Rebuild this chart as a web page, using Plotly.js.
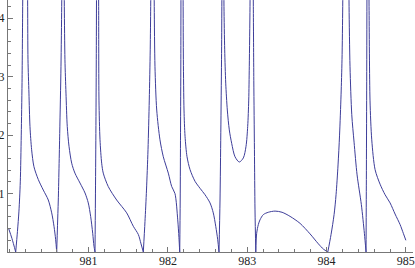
<!DOCTYPE html>
<html>
<head>
<meta charset="utf-8">
<script src="https://cdn.plot.ly/plotly-3.0.1.min.js"></script>
<style>
html,body{margin:0;padding:0;background:#fff;}
#chart{width:415px;height:268px;}
</style>
</head>
<body>
<div id="chart"></div>
<script>
// curve samples (null = break at a pole, 4.83 = point above the visible range)
const xValues = [
  979.99, 980.034, 980.081, 980.103, 980.122, 980.139, 980.151, 980.161, 980.169, 980.172, null,
  980.230, 980.232, 980.236, 980.248, 980.261, 980.282, 980.311, 980.366, 980.429, 980.492, 980.535, 980.564, 980.585, 980.598,
  980.608, 980.618, 980.636, 980.652, 980.661, 980.665, null,
  980.691, 980.694, 980.702, 980.715, 980.731, 980.753, 980.787, 980.828, 980.892, 980.955, 980.996, 981.026, 981.052, 981.068, 981.081,
  981.086, 981.092, 981.097, 981.101, null,
  981.125, 981.127, 981.131, 981.144, 981.165, 981.185, 981.248, 981.354, 981.480, 981.564, 981.627, 981.661, 981.690,
  981.711, 981.730, 981.749, 981.765, 981.777, 981.783, 981.786, null,
  981.826, 981.828, 981.837, 981.859, 981.900, 981.942, 982.005, 982.048, 982.089, 982.124, 982.139, 982.149,
  982.155, 982.159, 982.163, 982.165, null,
  982.190, 982.192, 982.195, 982.203, 982.216, 982.241, 982.279, 982.342, 982.405, 982.468, 982.531, 982.572, 982.603, 982.628, 982.644,
  982.657, 982.667, 982.676, 982.680, 982.682, null,
  982.705, 982.707, 982.716, 982.729, 982.749, 982.774, 982.804, 982.846, 982.900, 982.951, 982.985, 983.006, 983.019, 983.026, 983.035, 983.038, null,
  983.074, 983.077, 983.083, 983.091, 983.098, 983.108,
  983.119, 983.140, 983.161, 983.203, 983.266, 983.351, 983.439, 983.540, 983.666, 983.792, 983.897, 983.960, 984.016,
  984.057, 984.095, 984.120, 984.145, 984.164, 984.183, 984.195, 984.204, 984.207, null,
  984.281, 984.284, 984.296, 984.318, 984.347, 984.385, 984.439, 984.477, 984.498,
  984.502, 984.506, 984.510, null,
  984.533, 984.536, 984.548, 984.570, 984.612, 984.675, 984.738, 984.801, 984.864, 984.927, 984.968, 985.0
];
const yValues = [
  0.41, 0.23, 0, 0.35, 0.70, 1.20, 2.00, 2.90, 4.2, 4.83, null,
  4.83, 4.2, 3.29, 2.72, 2.15, 1.75, 1.46, 1.24, 1.06, 0.89, 0.67, 0.44, 0.21, 0,
  0.45, 0.89, 2.03, 3.17, 4.2, 4.83, null,
  4.83, 4.2, 3.29, 2.72, 2.15, 1.81, 1.52, 1.35, 1.18, 1.01, 0.84, 0.61, 0.32, 0.10, 0,
  0.89, 2.03, 3.29, 4.83, null,
  4.83, 4.2, 2.60, 1.92, 1.52, 1.35, 1.12, 0.89, 0.67, 0.44, 0.30, 0.14, 0,
  0.52, 1.06, 1.75, 2.60, 3.46, 4.2, 4.83, null,
  4.83, 4.2, 3.17, 2.43, 1.92, 1.63, 1.35, 1.12, 1.00, 0.55, 0.25, 0,
  0.89, 2.04, 3.29, 4.83, null,
  4.83, 4.2, 3.29, 2.43, 1.98, 1.63, 1.41, 1.21, 1.09, 0.98, 0.84, 0.67, 0.44, 0.21, 0,
  0.89, 2.04, 3.29, 4.2, 4.83, null,
  4.83, 4.2, 3.46, 2.89, 2.43, 2.09, 1.86, 1.63, 1.54, 1.61, 1.81, 2.15, 2.60, 3.17, 4.2, 4.83, null,
  4.83, 4.2, 2.94, 1.75, 0.72, 0,
  0.32, 0.47, 0.55, 0.64, 0.68, 0.70, 0.68, 0.61, 0.49, 0.31, 0.14, 0.05, 0,
  0.30, 0.64, 0.98, 1.49, 2.00, 2.69, 3.29, 4.2, 4.83, null,
  4.83, 4.2, 3.17, 2.35, 1.88, 1.32, 0.81, 0.32, 0,
  1.24, 2.77, 4.83, null,
  4.83, 4.2, 2.60, 1.92, 1.41, 1.16, 0.98, 0.84, 0.65, 0.47, 0.32, 0.20
];
const xTickValues = [981, 982, 983, 984, 985];
const xTickLabels = ['981', '982', '983', '984', '985'];
const yTickValues = [1, 2, 3, 4];
const yTickLabels = ['1', '2', '3', '4'];

const axisColor = '#777777';
const lineColor = '#3d3d99';
const tickFont = {family: 'Liberation Serif, Times New Roman, serif', size: 12, color: '#222222'};

// split the sampled curve into smooth branches: at pole breaks (null) and at the zero cusps
function branches(xs, ys) {
  const out = [];
  let cur = {x: [], y: []};
  for (let i = 0; i < xs.length; i++) {
    if (ys[i] === null) {
      if (cur.x.length > 1) out.push(cur);
      cur = {x: [], y: []};
      continue;
    }
    cur.x.push(xs[i]); cur.y.push(ys[i]);
    if (ys[i] === 0 && cur.x.length > 1) {
      out.push(cur);
      cur = {x: [xs[i]], y: [ys[i]]};
    }
  }
  if (cur.x.length > 1) out.push(cur);
  return out;
}

const traces = branches(xValues, yValues).map(b => ({
  x: b.x, y: b.y, type: 'scatter', mode: 'lines',
  line: {color: lineColor, width: 1, shape: 'spline', smoothing: 0.8},
  hoverinfo: 'skip'
}));

const layout = {
  width: 415, height: 268,
  margin: {l: 8, r: 2, t: 0, b: 16, pad: 0},
  paper_bgcolor: '#ffffff', plot_bgcolor: '#ffffff',
  showlegend: false,
  xaxis: {
    range: [979.984, 985.09], showgrid: false, zeroline: false,
    showline: true, linecolor: axisColor, linewidth: 1,
    tickmode: 'array', tickvals: xTickValues, ticktext: xTickLabels,
    ticks: 'inside', ticklen: 5, tickwidth: 1, tickcolor: axisColor,
    ticklabelstandoff: -2,
    minor: {ticks: 'inside', ticklen: 3, tickwidth: 1, tickcolor: axisColor, dtick: 0.2, tick0: 980, showgrid: false},
    tickfont: tickFont, fixedrange: true
  },
  yaxis: {
    range: [0, 4.313], showgrid: false, zeroline: false,
    showline: true, linecolor: axisColor, linewidth: 1,
    tickmode: 'array', tickvals: yTickValues, ticktext: yTickLabels,
    ticks: 'inside', ticklen: 5, tickwidth: 1, tickcolor: axisColor,
    minor: {ticks: 'inside', ticklen: 3, tickwidth: 1, tickcolor: axisColor, dtick: 0.2, tick0: 0, showgrid: false},
    tickfont: tickFont, fixedrange: true
  }
};

Plotly.newPlot('chart', traces, layout, {displayModeBar: false, staticPlot: true});
</script>
</body>
</html>
